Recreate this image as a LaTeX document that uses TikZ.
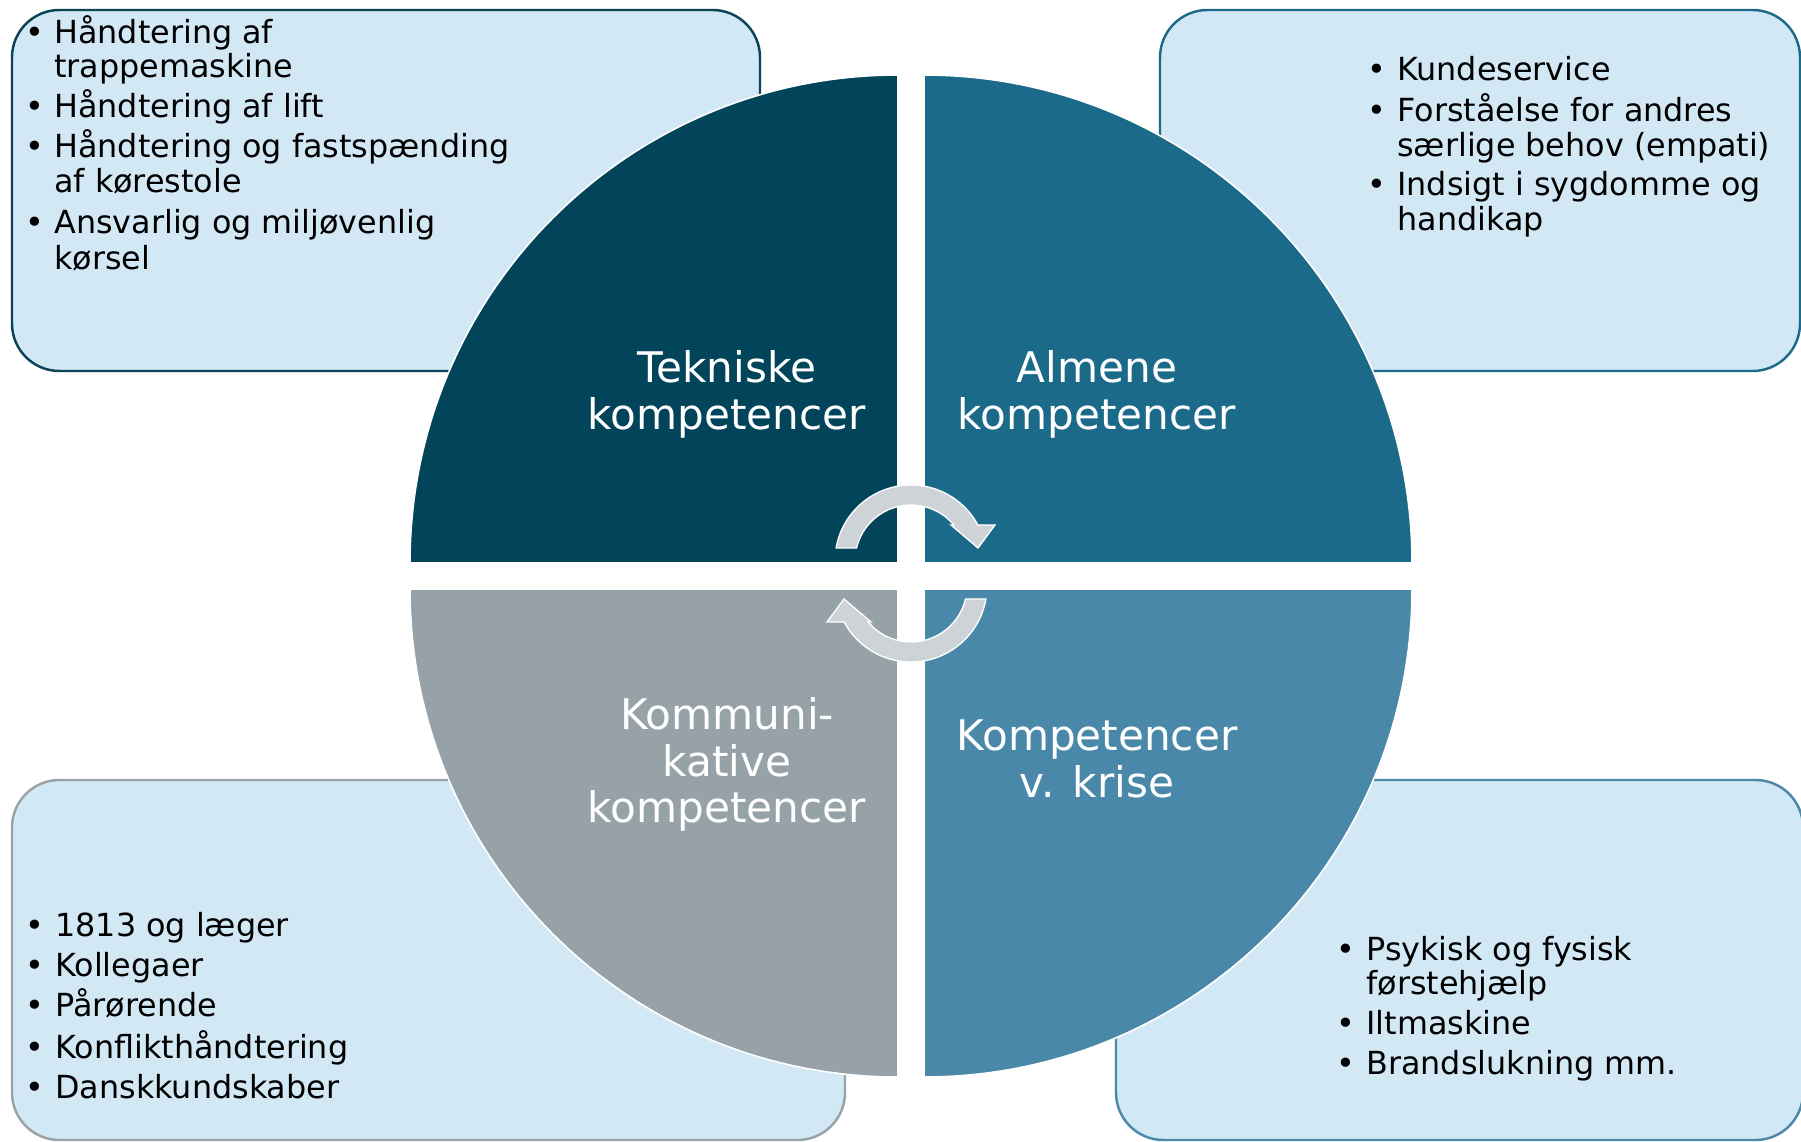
\documentclass[tikz,border=0pt]{standalone}
\usepackage{fontspec}
\setmainfont{DejaVu Sans}

\definecolor{qtl}{HTML}{02445A}
\definecolor{qtr}{HTML}{1B6A89}
\definecolor{qbl}{HTML}{96A1A8}
\definecolor{qbr}{HTML}{4988A9}
\definecolor{boxfill}{HTML}{D3E8F5}
\definecolor{edgetl}{HTML}{0A4457}
\definecolor{edgetr}{HTML}{1D6B8A}
\definecolor{edgebl}{HTML}{97A2A9}
\definecolor{edgebr}{HTML}{4B89A9}
\definecolor{turngray}{HTML}{CDD3D6}

\begin{document}
\begin{tikzpicture}[x=0.02cm, y=0.02cm,
  panel/.style={fill=boxfill, line width=1.4pt, rounded corners=27pt},
  quad/.style={draw=white, line width=0.9pt},
  turn/.style={fill=turngray, draw=white, line width=0.75pt, line join=miter},
  entry/.style={anchor=base west, inner sep=0pt, text=black,
                font=\fontsize{18.1}{20}\selectfont},
  dot/.style={anchor=base, inner sep=0pt, text=black,
              font=\fontsize{18.1}{20}\selectfont},
  title/.style={anchor=base, inner sep=0pt, text=white,
                font=\fontsize{24}{28}\selectfont}]

\useasboundingbox (0,0) rectangle (1801,-1142);
\fill[white] (0,0) rectangle (1801,-1142);

% rounded text panels behind the disc
\draw[panel, draw=edgetl] (12,-10) rectangle (760,-371);
\draw[panel, draw=edgetr] (1160,-10) rectangle (1800,-371);
\draw[panel, draw=edgebl] (12,-780) rectangle (845,-1140);
\draw[panel, draw=edgebr] (1116,-780) rectangle (1803,-1140);

% four quarter discs
\filldraw[quad, fill=qtl] (898,-563) -- (410,-563)
  arc[start angle=180, end angle=90, radius=488] -- cycle;
\filldraw[quad, fill=qtr] (924,-563) -- (924,-75)
  arc[start angle=90, end angle=0, radius=488] -- cycle;
\filldraw[quad, fill=qbl] (898,-589) -- (410,-589)
  arc[start angle=180, end angle=270, radius=488] -- cycle;
\filldraw[quad, fill=qbr] (924,-589) -- (1412,-589)
  arc[start angle=0, end angle=-90, radius=488] -- cycle;

% circular arrows in the centre
\begin{scope}[shift={(911,-561)}]
  \filldraw[turn] (-74.9,13) arc[start angle=170.15, end angle=28.3, radius=76]
    -- (84,36) -- (67,13) -- (40,36) -- (42.9,36)
    arc[start angle=40, end angle=166.6, radius=56] -- cycle;
\end{scope}
\begin{scope}[shift={(911,-586)}, rotate=180]
  \filldraw[turn] (-74.9,13) arc[start angle=170.15, end angle=28.3, radius=76]
    -- (84,36) -- (67,13) -- (40,36) -- (42.9,36)
    arc[start angle=40, end angle=166.6, radius=56] -- cycle;
\end{scope}

% quadrant titles
\node[title] (tl-a) at (727,-382.3) {Tekniske};
\node[title] (tl-b) at (727,-429.3) {kompetencer};
\node[title] (tr-a) at (1097,-382.3) {Almene};
\node[title] (tr-b) at (1097,-429.3) {kompetencer};
\node[title] (bl-a) at (727,-729.3) {Kommuni-};
\node[title] (bl-b) at (727,-776) {kative};
\node[title] (bl-c) at (727,-822.7) {kompetencer};
\node[title] (br-a) at (1097,-750.5) {Kompetencer};
\node[title] (br-b) at (1097,-797.5) {v. krise};

% upper left list
\foreach \y/\t [count=\i] in {43.8/Håndtering af, 77.2/trappemaskine,
    118/Håndtering af lift, 157.7/Håndtering og fastspænding,
    192.7/af kørestole, 234/Ansvarlig og miljøvenlig, 269/kørsel}
  \node[entry] (tlt-\i) at (54,-\y) {\t};
\foreach \y [count=\i] in {43.8, 118, 157.7, 234}
  \node[dot] (tld-\i) at (35,-\y) {•};

% upper right list
\foreach \y/\t [count=\i] in {80.7/Kundeservice, 121.7/Forståelse for andres,
    156.7/særlige behov (empati), 195/Indsigt i sygdomme og, 230.5/handikap}
  \node[entry] (trt-\i) at (1397,-\y) {\t};
\foreach \y [count=\i] in {80.7, 121.7, 195}
  \node[dot] (trd-\i) at (1377,-\y) {•};

% lower left list
\foreach \y/\t [count=\i] in {936.7/1813 og læger, 976/Kollegaer,
    1016.7/Pårørende, 1058.5/Konflikthåndtering, 1098/Danskkundskaber}
  \node[entry] (blt-\i) at (55,-\y) {\t};
\foreach \y [count=\i] in {936.7, 976, 1016.7, 1058.5, 1098}
  \node[dot] (bld-\i) at (35,-\y) {•};

% lower right list
\foreach \y/\t [count=\i] in {960.7/Psykisk og fysisk, 994/førstehjælp,
    1034/Iltmaskine, 1074/Brandslukning mm.}
  \node[entry] (brt-\i) at (1366,-\y) {\t};
\foreach \y [count=\i] in {960.7, 1034, 1074}
  \node[dot] (brd-\i) at (1346,-\y) {•};

\end{tikzpicture}
\end{document}
